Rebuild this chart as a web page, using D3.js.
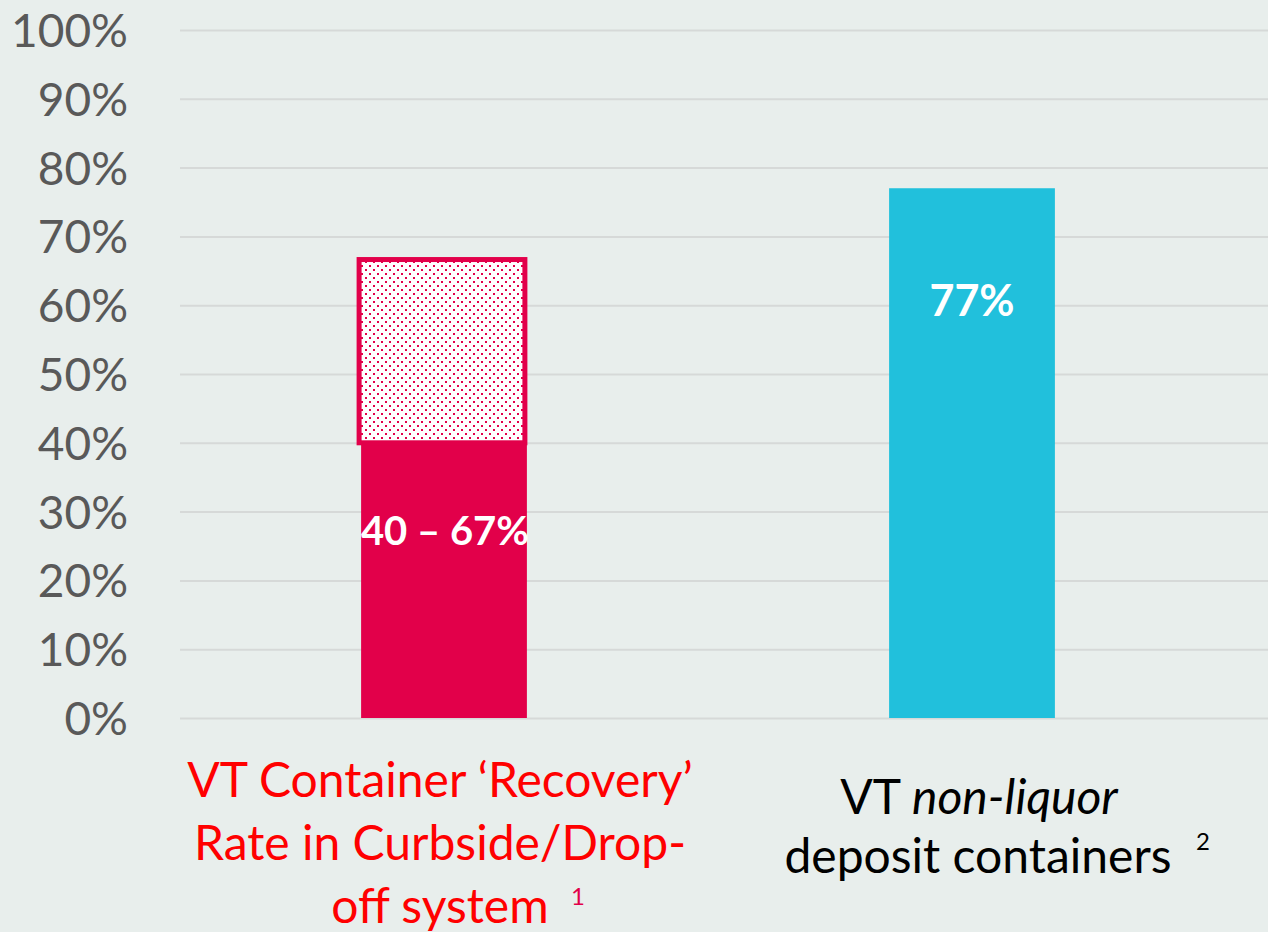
<!DOCTYPE html>
<html>
<head>
<meta charset="utf-8">
<script src="https://cdn.jsdelivr.net/npm/d3@7"></script>
<style>
  html, body { margin: 0; padding: 0; background: #e8eeec; }
  svg { display: block; }
</style>
</head>
<body>
<svg id="chart" width="1268" height="932"></svg>
<script>
// Recovery rates, in percent
const categories = ["curbside", "deposit"];
const rangeLow = [40, null];     // solid part of the range bar
const rangeHigh = [67, null];    // top of the dotted range box
const singleValue = [null, 77];  // single-value bar
const valueLabels = ["40 – 67%", "77%"];
const tickValues = [0, 10, 20, 30, 40, 50, 60, 70, 80, 90, 100];
const tickLabels = tickValues.map(v => v + "%");

const W = 1268, H = 932;
const plot = { left: 180, right: 1268, top: 30, bottom: 718 };
const svg = d3.select("#chart");
const FONT = "Lato, 'Open Sans', sans-serif";

const y = d3.scaleLinear().domain([0, 100]).range([plot.bottom, plot.top]);
const x = d3.scaleBand().domain(categories)
  .range([plot.left, 1236]).paddingInner(0.686).paddingOuter(0.343);

// dotted fill for the uncertain upper part of the range
const defs = svg.append("defs");
const pat = defs.append("pattern").attr("id", "dots")
  .attr("patternUnits", "userSpaceOnUse").attr("width", 8).attr("height", 8);
pat.append("rect").attr("width", 8).attr("height", 8).attr("fill", "#ffffff");
pat.append("rect").attr("x", 1).attr("y", 1).attr("width", 2).attr("height", 2).attr("fill", "#e2004a");
pat.append("rect").attr("x", 5).attr("y", 5).attr("width", 2).attr("height", 2).attr("fill", "#e2004a");

// y axis with full-width gridlines
const axis = d3.axisLeft(y).tickValues(tickValues)
  .tickFormat((d, i) => tickLabels[i])
  .tickSizeInner(-(plot.right - plot.left)).tickSizeOuter(0).tickPadding(52);
const gA = svg.append("g").attr("transform", `translate(${plot.left},0)`).call(axis);
gA.select(".domain").remove();
gA.selectAll(".tick line").attr("stroke", "#d6d9d8").attr("stroke-width", 2);
gA.selectAll(".tick text")
  .attr("fill", "#595959").attr("font-family", FONT).attr("font-size", 46)
  .attr("dy", "0.36em");

// range bar: solid lower part
svg.append("rect")
  .attr("x", x("curbside")).attr("width", x.bandwidth())
  .attr("y", y(rangeLow[0])).attr("height", y(0) - y(rangeLow[0]))
  .attr("fill", "#e2004a");

// range bar: dotted box from low to high
svg.append("rect")
  .attr("x", x("curbside") - 2).attr("width", x.bandwidth())
  .attr("y", y(rangeHigh[0]) + 2.5).attr("height", y(rangeLow[0]) - y(rangeHigh[0]) - 2.5)
  .attr("fill", "url(#dots)").attr("stroke", "#e2004a").attr("stroke-width", 5);

// single-value bar
svg.append("rect")
  .attr("x", x("deposit")).attr("width", x.bandwidth())
  .attr("y", y(singleValue[1])).attr("height", y(0) - y(singleValue[1]))
  .attr("fill", "#21c0dc");

// value labels
const cx = c => x(c) + x.bandwidth() / 2;
svg.append("text").attr("x", cx("curbside") + 1).attr("y", 545)
  .attr("text-anchor", "middle").attr("fill", "#fff").attr("font-weight", 700)
  .attr("font-family", FONT).attr("font-size", 40).text(valueLabels[0]);
svg.append("text").attr("x", cx("deposit")).attr("y", 316)
  .attr("text-anchor", "middle").attr("fill", "#fff").attr("font-weight", 700)
  .attr("font-family", FONT).attr("font-size", 43).text(valueLabels[1]);

// category labels
const catFont = 48;
const l1 = svg.append("text").attr("text-anchor", "middle")
  .attr("font-family", FONT).attr("font-size", catFont).attr("fill", "#ff0000");
l1.append("tspan").attr("x", cx("curbside") - 4).attr("y", 797).text("VT Container ‘Recovery’");
l1.append("tspan").attr("x", cx("curbside") - 4).attr("y", 860).text("Rate in Curbside/Drop-");
l1.append("tspan").attr("x", cx("curbside") - 4).attr("y", 923).text("off system  ");
svg.append("text").attr("x", 578).attr("y", 905).attr("text-anchor", "middle")
  .attr("font-family", FONT).attr("font-size", 24).attr("fill", "#e2004a").text("1");

const l2 = svg.append("text").attr("text-anchor", "middle")
  .attr("font-family", FONT).attr("font-size", catFont).attr("fill", "#000");
const l2a = l2.append("tspan").attr("x", 979).attr("y", 814);
l2a.append("tspan").text("VT ");
l2a.append("tspan").attr("font-style", "italic").text("non-liquor");
l2.append("tspan").attr("x", 978).attr("y", 873).text("deposit containers");
svg.append("text").attr("x", 1203).attr("y", 850).attr("text-anchor", "middle")
  .attr("font-family", FONT).attr("font-size", 24).attr("fill", "#000").text("2");
</script>
</body>
</html>
